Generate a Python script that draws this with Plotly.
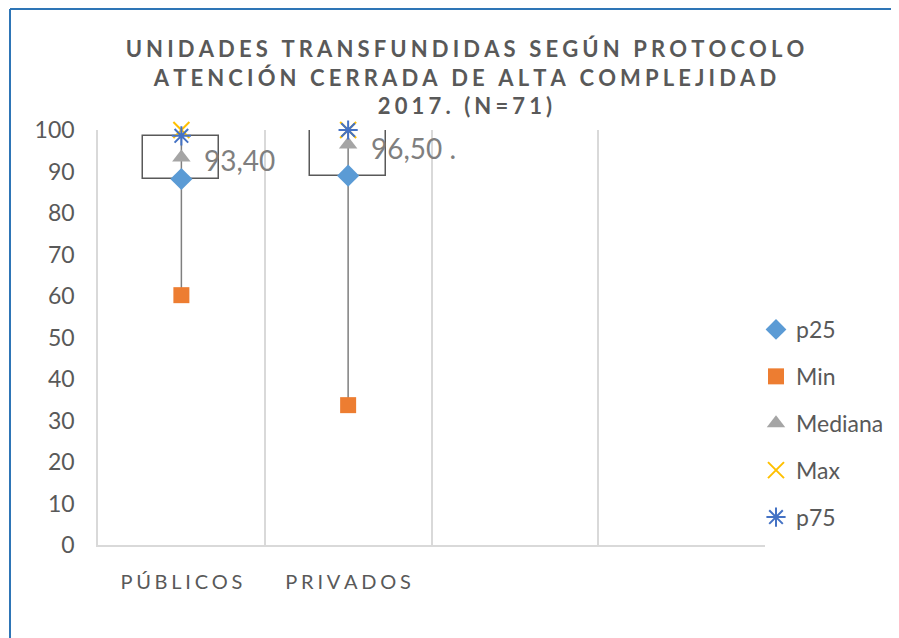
import plotly.graph_objects as go

categories = ["PÚBLICOS", "PRIVADOS", "", ""]
p25 = [88.2, 89.0]
min_vals = [60.2, 33.7]
median = [93.4, 96.5]
max_vals = [100.0, 100.0]
p75 = [98.6, 100.0]
median_labels = ["93,40", "96,50 ."]
y_ticks = [0, 10, 20, 30, 40, 50, 60, 70, 80, 90, 100]

TITLE_LINES = ["UNIDADES TRANSFUNDIDAS SEGÚN PROTOCOLO",
               "ATENCIÓN CERRADA DE ALTA COMPLEJIDAD",
               "2017. (N=71)"]

SP = "\u2009\u200a"


def spaced(s):
    return SP.join(list(s))


FONT = "Lato, 'Open Sans', sans-serif"
TXT = "#595959"

W_FIG, H_FIG = 891, 630
L, T, R, B = 90, 122, 134, 93
PW = W_FIG - L - R
PH = H_FIG - T - B

n = len(p25)
xs = [i + 0.5 for i in range(n)]
tick_x = [i + 0.5 for i in range(len(categories))]

fig = go.Figure()

# High-low lines (min to max)
lx, ly = [], []
for i in range(n):
    lx += [xs[i], xs[i], None]
    ly += [min_vals[i], max_vals[i], None]
fig.add_trace(go.Scatter(x=lx, y=ly, mode="lines", line=dict(color="#7f7f7f", width=1.5),
                         showlegend=False, hoverinfo="skip", cliponaxis=False))

# Up/down bars (p25 to p75)
fig.add_trace(go.Bar(x=xs, y=[p75[i] - p25[i] for i in range(n)], base=p25, width=0.455,
                     marker=dict(color="white", line=dict(color="#595959", width=1.5)),
                     showlegend=False, hoverinfo="skip"))

series = [
    ("p25", p25, dict(symbol="diamond", color="#5b9bd5", size=17)),
    ("Min", min_vals, dict(symbol="square", color="#ed7d31", size=16)),
    ("Mediana", median, dict(symbol="triangle-up", color="#a5a5a5", size=16)),
    ("Max", max_vals, dict(symbol="x-thin-open", color="#ffc000", size=16, line=dict(color="#ffc000", width=2))),
    ("p75", p75, dict(symbol="asterisk-open", color="#4472c4", size=16, line=dict(color="#4472c4", width=2))),
]
for name, vals, mk in series:
    fig.add_trace(go.Scatter(x=xs, y=vals, name=name, mode="markers", marker=mk, cliponaxis=False,
                             legendgroup=name))

for i in range(n):
    fig.add_annotation(x=xs[i], y=median[i], text=median_labels[i], showarrow=False,
                       xanchor="left", yanchor="middle", xshift=21, yshift=-3,
                       font=dict(family=FONT, size=28, color="#7f7f7f"))

fig.update_layout(
    width=W_FIG, height=H_FIG,
    margin=dict(l=L, r=R, t=T, b=B, autoexpand=False),
    plot_bgcolor="white", paper_bgcolor="white",
    title=dict(text="<br>".join(spaced(s) for s in TITLE_LINES), x=457 / W_FIG, xanchor="center",
               y=1 - 49 / H_FIG, yanchor="top",
               font=dict(family=FONT, size=22, color=TXT, weight="bold")),
    font=dict(family=FONT, color=TXT),
    showlegend=True,
    legend=dict(xref="container", yref="container", x=748 / W_FIG, xanchor="left",
                y=1 - 300 / H_FIG, yanchor="top",
                font=dict(family=FONT, size=23, color=TXT),
                tracegroupgap=14, bgcolor="rgba(0,0,0,0)"),
    bargap=0,
)
fig.update_xaxes(range=[0, len(categories)], tickmode="array", tickvals=tick_x,
                 ticktext=[spaced(c) for c in categories], showgrid=False, zeroline=False,
                 showline=True, linecolor="#d9d9d9", linewidth=1.5, ticks="",
                 tickfont=dict(family=FONT, size=20, color=TXT), ticklabelstandoff=18,
                 minor=dict(tickmode="array", tickvals=list(range(1, len(categories))),
                            showgrid=True, gridcolor="#d9d9d9", gridwidth=1.5, ticks=""))
fig.update_yaxes(range=[0, 100], tickmode="array", tickvals=y_ticks, showgrid=False, zeroline=False,
                 showline=True, linecolor="#d9d9d9", linewidth=1.5, ticks="",
                 tickfont=dict(family=FONT, size=23, color=TXT), ticklabelstandoff=17)

# chart frame (blue border top & left)
fx = lambda px: (px - L) / PW
fy = lambda py: (H_FIG - B - py) / PH
fig.add_shape(type="line", xref="paper", yref="paper", x0=fx(2), x1=fx(W_FIG),
              y0=fy(1), y1=fy(1), line=dict(color="#2e75b6", width=2))
fig.add_shape(type="line", xref="paper", yref="paper", x0=fx(2), x1=fx(2),
              y0=fy(1), y1=fy(H_FIG), line=dict(color="#2e75b6", width=2))

fig.write_html("out.html")
